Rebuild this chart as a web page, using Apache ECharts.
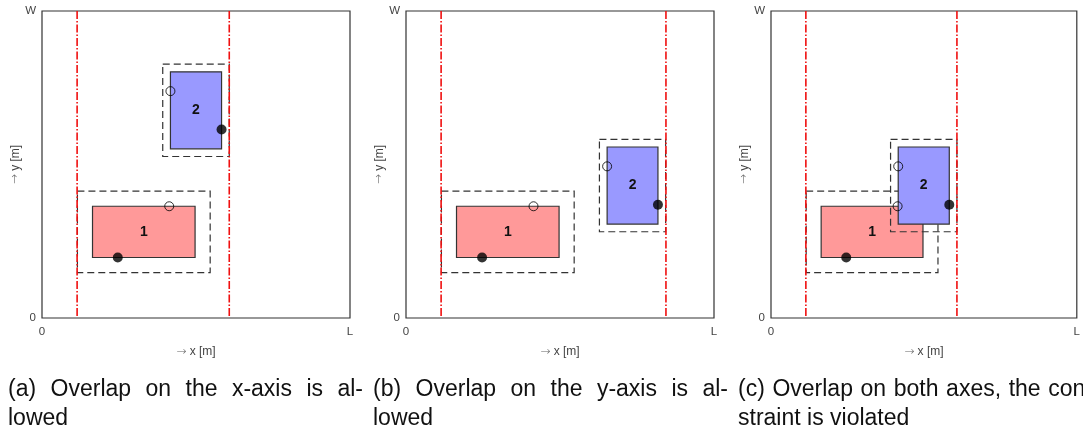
<!DOCTYPE html>
<html>
<head>
<meta charset="utf-8">
<script src="https://cdn.jsdelivr.net/npm/echarts@6/dist/echarts.min.js"></script>
<style>
  html, body { margin: 0; padding: 0; background: #fff; }
  #chart { width: 1083px; height: 433px; }
</style>
</head>
<body>
<div id="chart"></div>
<script>
// both axes run 0..100 (0..L and 0..W)
const xTickLabels = ['0', 'L'];
const yTickLabels = ['0', 'W'];
const panelNames = ['a', 'b', 'c'];

// rectangles as [x0, y0, x1, y1]
const rectOne = [16.4, 19.7, 49.7, 36.4];
const rectTwoA = [41.7, 55.1, 58.3, 80.2];
const rectTwoB = [65.3, 30.6, 81.8, 55.7];
const rectTwoC = [41.6, 30.6, 58.3, 55.7];
// clearance of the dashed box round each rectangle
const clearance = [4.9, 2.5];

// red dash-dot limits
const limitsA = [11.4, 60.8];
const limitsB = [11.4, 84.4];
const limitsC = [11.4, 60.8];

const filledA = [[24.6, 19.7], [58.3, 61.4]];
const filledB = [[24.7, 19.7], [81.8, 36.9]];
const filledC = [[24.6, 19.7], [58.3, 36.9]];
const openA = [[41.3, 36.4], [41.7, 73.9]];
const openB = [[41.4, 36.4], [65.3, 49.4]];
const openC = [[41.4, 36.4], [41.6, 49.4]];

const captions = [
  ['(a) Overlap on the x-axis is al-', 'lowed'],
  ['(b) Overlap on the y-axis is al-', 'lowed'],
  ['(c) Overlap on both axes, the con-', 'straint is violated']
];

const rectsByPanel = [rectTwoA, rectTwoB, rectTwoC];
const limitsByPanel = [limitsA, limitsB, limitsC];
const filledByPanel = [filledA, filledB, filledC];
const openByPanel = [openA, openB, openC];

const gridLefts = [42, 406, 771];
const rectColors = ['#ff9999', '#9999ff'];

function renderBox(params, api) {
  const x0 = api.value(0), y0 = api.value(1), x1 = api.value(2), y1 = api.value(3), m = api.value(4);
  const p0 = api.coord([x0, y0]);
  const p1 = api.coord([x1, y1]);
  const q0 = api.coord([x0 - m, y0 - m]);
  const q1 = api.coord([x1 + m, y1 + m]);
  return {
    type: 'group',
    children: [
      {
        type: 'rect',
        shape: { x: p0[0], y: p1[1], width: p1[0] - p0[0], height: p0[1] - p1[1] },
        style: { fill: rectColors[params.dataIndex], stroke: '#333', lineWidth: 1.2 }
      },
      {
        type: 'text',
        x: (p0[0] + p1[0]) / 2,
        y: (p0[1] + p1[1]) / 2,
        style: {
          text: String(params.dataIndex + 1),
          align: 'center',
          verticalAlign: 'middle',
          font: 'bold 14px "Liberation Sans", Arial, sans-serif',
          fill: '#111'
        }
      },
      {
        type: 'rect',
        shape: { x: q0[0], y: q1[1], width: q1[0] - q0[0], height: q0[1] - q1[1] },
        style: { fill: 'none', stroke: '#333', lineWidth: 1.2, lineDash: [7, 4] }
      }
    ]
  };
}

// vertical red limit from y = 0 to y = 100
function renderLimit(params, api) {
  const top = api.coord([api.value(0), 100]);
  const bottom = api.coord([api.value(0), 0]);
  return {
    type: 'line',
    shape: { x1: top[0], y1: top[1], x2: bottom[0], y2: bottom[1] },
    style: { stroke: '#f01010', lineWidth: 1.6, lineDash: [8, 2, 1.5, 2] }
  };
}

const grid = [], xAxis = [], yAxis = [], series = [];
const axisText = { color: '#444', fontSize: 11.5, fontFamily: 'Liberation Sans' };
const nameText = {
  color: '#444', fontSize: 12, fontFamily: 'Liberation Sans',
  rich: { arr: { color: '#666', fontSize: 12, fontFamily: 'DejaVu Sans', fontWeight: 'lighter' } }
};

panelNames.forEach((name, i) => {
  grid.push({
    left: gridLefts[i], top: 11, width: 308, height: 307,
    show: true, borderColor: '#333', borderWidth: 1.2, backgroundColor: '#fff'
  });
  xAxis.push({
    gridIndex: i, type: 'value', min: 0, max: 100, interval: 100,
    name: '{arr|→} x [m]', nameLocation: 'middle', nameGap: 28,
    nameTextStyle: nameText,
    axisLine: { show: false }, axisTick: { show: false }, splitLine: { show: false },
    axisLabel: Object.assign({ margin: 8, formatter: v => xTickLabels[v === 0 ? 0 : 1] }, axisText)
  });
  yAxis.push({
    gridIndex: i, type: 'value', min: 0, max: 100, interval: 100,
    name: '{arr|→} y [m]', nameLocation: 'middle', nameGap: 20,
    nameTextStyle: nameText,
    axisLine: { show: false }, axisTick: { show: false }, splitLine: { show: false },
    axisLabel: Object.assign({ margin: 6, formatter: v => yTickLabels[v === 0 ? 0 : 1] }, axisText)
  });
  series.push({
    type: 'custom',
    xAxisIndex: i, yAxisIndex: i,
    renderItem: renderBox,
    silent: true,
    z: 2,
    data: [rectOne.concat(clearance[0]), rectsByPanel[i].concat(clearance[1])]
  });
  series.push({
    type: 'custom',
    xAxisIndex: i, yAxisIndex: i,
    renderItem: renderLimit,
    silent: true,
    z: 3,
    data: limitsByPanel[i].map(v => [v])
  });
  series.push({
    type: 'scatter',
    xAxisIndex: i, yAxisIndex: i,
    symbol: 'circle', symbolSize: 10,
    itemStyle: { color: '#000' },
    silent: true,
    z: 4,
    data: filledByPanel[i]
  });
  series.push({
    type: 'scatter',
    xAxisIndex: i, yAxisIndex: i,
    symbol: 'circle', symbolSize: 9,
    itemStyle: { color: 'rgba(0,0,0,0)', borderColor: '#000', borderWidth: 1 },
    silent: true,
    z: 4,
    data: openByPanel[i]
  });
});

// captions, first line justified over the column width
const captionFont = '23px "Liberation Sans", Arial, sans-serif';
const captionLefts = [8, 373, 738];
const captionWidth = 355;
const measure = document.createElement('canvas').getContext('2d');
measure.font = captionFont;

function captionLine(text, left, y, justify) {
  const words = text.split(' ');
  const widths = words.map(w => measure.measureText(w).width);
  const total = widths.reduce((a, b) => a + b, 0);
  const gap = justify ? (captionWidth - total) / (words.length - 1) : measure.measureText(' ').width;
  let x = left;
  return words.map((w, k) => {
    const el = { type: 'text', x: x, y: y, style: { text: w, font: captionFont, fill: '#111', verticalAlign: 'middle' } };
    x += widths[k] + gap;
    return el;
  });
}

let graphic = [];
captions.forEach((lines, i) => {
  graphic = graphic.concat(captionLine(lines[0], captionLefts[i], 390, true));
  graphic = graphic.concat(captionLine(lines[1], captionLefts[i], 419, false));
});

const chart = echarts.init(document.getElementById('chart'));
chart.setOption({
  animation: false,
  backgroundColor: '#fff',
  grid, xAxis, yAxis, series, graphic
});
</script>
</body>
</html>
